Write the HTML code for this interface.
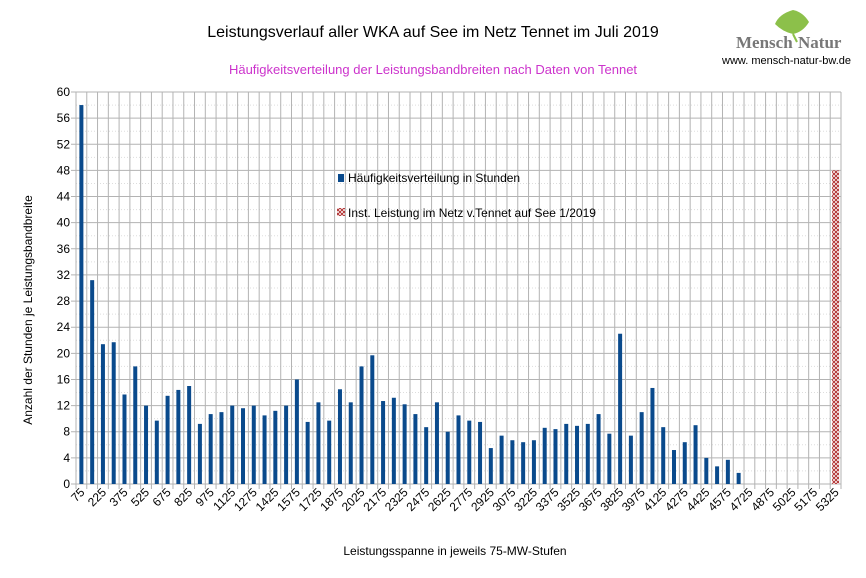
<!DOCTYPE html>
<html><head><meta charset="utf-8"><style>
body{margin:0;background:#fff;}
svg{display:block;font-family:"Liberation Sans",sans-serif;}
</style></head><body>
<svg id="s" width="866" height="578" xmlns="http://www.w3.org/2000/svg">
<defs>
<pattern id="xh" width="4" height="4" patternUnits="userSpaceOnUse">
<rect width="4" height="4" fill="#fff"/>
<path d="M0,0L4,4M4,0L0,4" stroke="#b03030" stroke-width="1"/>
</pattern>
</defs>
<rect width="866" height="578" fill="#fff"/>
<text x="433" y="37" text-anchor="middle" font-size="16" fill="#000">Leistungsverlauf aller WKA auf See im Netz Tennet im Juli 2019</text>
<text x="433" y="74" text-anchor="middle" font-size="13" fill="#cc33cc">Häufigkeitsverteilung der Leistungsbandbreiten nach Daten von Tennet</text>
<path d="M793,10 q-14,4 -18,14 q8,8 18,10 q10,-2 16,-12 q-6,-10 -16,-12z" fill="#8cc04a"/>
<path d="M793,34 l4,8" stroke="#8cc04a" stroke-width="2"/>
<text x="736" y="48" font-family="Liberation Serif,serif" font-size="17" font-weight="bold" fill="#777">Mensch</text><text x="798" y="48" font-family="Liberation Serif,serif" font-size="17" font-weight="bold" fill="#777">Natur</text>
<text x="722" y="64" font-size="11" fill="#000">www. mensch-natur-bw.de</text>
<g id="g"></g>
<text transform="translate(32,310) rotate(-90)" text-anchor="middle" font-size="12">Anzahl der Stunden je Leistungsbandbreite</text>
<text x="455" y="555" text-anchor="middle" font-size="12">Leistungsspanne in jeweils 75-MW-Stufen</text>
<rect x="338" y="174" width="6" height="8" fill="#0a4a8c"/>
<text x="348" y="182" font-size="12">Häufigkeitsverteilung in Stunden</text>
<rect x="337" y="208" width="8" height="8" fill="url(#xh)"/>
<text x="348" y="217" font-size="12">Inst. Leistung im Netz v.Tennet auf See 1/2019</text>
</svg>
<script>
var g=document.getElementById('g'),h='';
var L=76,R=841,T=92,B=484,n=71,w=(R-L)/n,k=(B-T)/60;
for(var v=2;v<60;v+=4){var y=B-v*k;h+='<line x1="'+L+'" x2="'+R+'" y1="'+y+'" y2="'+y+'" stroke="#ddd" stroke-dasharray="1,2"/>';}
for(var i=0;i<=n;i++){var x=L+i*w;h+='<line x1="'+x+'" x2="'+x+'" y1="'+T+'" y2="'+(B+5)+'" stroke="#b3b3b3"/>';}
for(var v=0;v<=60;v+=4){var y=B-v*k;h+='<line x1="'+(L-5)+'" x2="'+R+'" y1="'+y+'" y2="'+y+'" stroke="#b3b3b3"/>';
h+='<text x="'+(L-6)+'" y="'+(y+4)+'" text-anchor="end" font-size="12">'+v+'</text>';}
var d=[58,31.2,21.4,21.7,13.7,18,12,9.7,13.5,14.4,15,9.2,10.7,11,12,11.6,12,10.5,11.2,12,16,9.5,12.5,9.7,14.5,12.5,18,19.7,12.7,13.2,12.2,10.7,8.7,12.5,8,10.5,9.7,9.5,5.5,7.4,6.7,6.4,6.7,8.6,8.4,9.2,8.9,9.2,10.7,7.7,23,7.4,11,14.7,8.7,5.2,6.4,9,4,2.7,3.7,1.7];
for(var i=0;i<d.length;i++){var c=L+(i+.5)*w;h+='<rect x="'+(c-2)+'" y="'+(B-d[i]*k)+'" width="4" height="'+d[i]*k+'" fill="#0a4a8c"/>';}
var c=L+70.5*w;h+='<rect x="'+(c-3.5)+'" y="'+(B-48*k)+'" width="7" height="'+48*k+'" fill="url(#xh)"/>';
for(var i=0;i<n;i+=2){var c=L+(i+.5)*w+4;h+='<text transform="translate('+c+',493) rotate(-45)" text-anchor="end" font-size="12">'+(75+i*75)+'</text>';}
g.innerHTML=h;
</script>
</body></html>
